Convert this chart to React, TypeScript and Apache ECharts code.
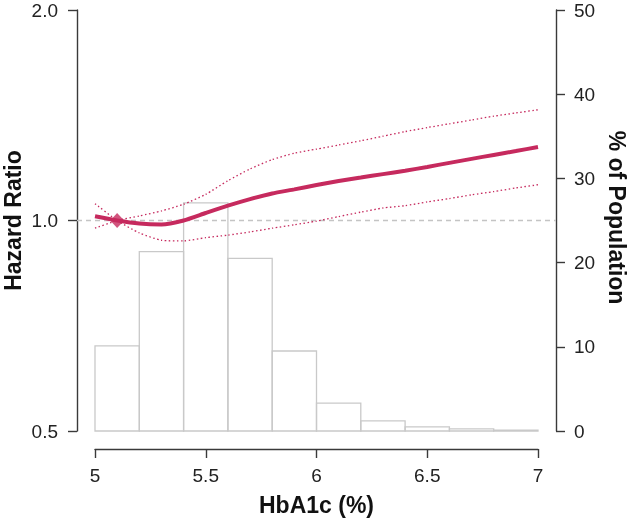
import React, { useEffect, useRef } from "react";
import * as echarts from "echarts";

const hba1c = [5.0, 5.1, 5.2, 5.3, 5.4, 5.5, 5.6, 5.7, 5.8, 5.9, 6.0, 6.1, 6.2, 6.3, 6.4, 6.5, 6.6, 6.7, 6.8, 6.9, 7.0];
const hazard = [1.014, 1.0, 0.99, 0.987, 1.0, 1.025, 1.05, 1.073, 1.093, 1.108, 1.124, 1.139, 1.152, 1.165, 1.178, 1.193, 1.209, 1.225, 1.241, 1.257, 1.274];
const ciA = [0.975, 1.0, 1.015, 1.032, 1.055, 1.09, 1.14, 1.185, 1.222, 1.248, 1.265, 1.282, 1.3, 1.32, 1.34, 1.358, 1.375, 1.392, 1.41, 1.425, 1.44];
const ciB = [1.057, 1.0, 0.96, 0.937, 0.935, 0.945, 0.953, 0.963, 0.975, 0.986, 0.998, 1.013, 1.028, 1.042, 1.05, 1.063, 1.075, 1.088, 1.1, 1.113, 1.125];
const binStarts = [5.0, 5.2, 5.4, 5.6, 5.8, 6.0, 6.2, 6.4, 6.6, 6.8];
const binEnds = [5.2, 5.4, 5.6, 5.8, 6.0, 6.2, 6.4, 6.6, 6.8, 7.0];
const popPct = [10.1, 21.3, 27.1, 20.5, 9.5, 3.3, 1.2, 0.5, 0.25, 0.1];
const refPoint = [5.1, 1.0];
const xTitle = "HbA1c (%)";
const yLeftTitle = "Hazard Ratio";
const yRightTitle = "% of Population";

const MAIN = "#c62a5e";
const AXIS = "#3a3a3a";
const FONT = "Liberation Sans, Arial, sans-serif";

export default function App() {
  const ref = useRef<HTMLDivElement>(null);
  useEffect(() => {
    if (!ref.current) return;
    const chart = echarts.init(ref.current, undefined, { renderer: "svg" });
    const offset = 18;
    const axisLine = { show: true, onZero: false, lineStyle: { color: AXIS, width: 1.4 } };
    const axisTick = { show: true, length: 9, lineStyle: { color: AXIS, width: 1.4 } };
    const labelStyle = { color: "#222", fontSize: 19, fontFamily: FONT };
    const nameStyle = { color: "#111", fontSize: 23, fontWeight: "bold" as const, fontFamily: FONT };
    const option: any = {
      animation: false,
      grid: { left: 95, right: 95, top: 10, bottom: 100, containLabel: false, outerBoundsMode: "none" },
      xAxis: [
        {
          type: "value",
          position: "bottom",
          min: 5,
          max: 7,
          interval: 0.5,
          offset,
          axisLine,
          axisTick,
          splitLine: { show: false },
          axisLabel: { ...labelStyle, margin: 17, formatter: (v: number) => String(v) },
          name: xTitle,
          nameLocation: "middle",
          nameGap: 44,
          nameTextStyle: nameStyle,
        },
      ],
      yAxis: [
        {
          type: "log",
          logBase: 2,
          min: 0.5,
          max: 2,
          position: "left",
          offset,
          axisLine,
          axisTick,
          splitLine: { show: false },
          minorTick: { show: false },
          axisLabel: { ...labelStyle, margin: 19, formatter: (v: number) => v.toFixed(1) },
        },
        {
          type: "value",
          min: 0,
          max: 50,
          interval: 10,
          position: "right",
          offset,
          axisLine,
          axisTick,
          splitLine: { show: false },
          axisLabel: { ...labelStyle, margin: 18 },
        },
      ],
      series: [
        {
          type: "custom",
          yAxisIndex: 1,
          z: 1,
          data: binStarts.map((s, i) => [s, binEnds[i], popPct[i]]),
          renderItem: (params: any, api: any) => {
            const p0 = api.coord([api.value(0), 0]);
            const p1 = api.coord([api.value(1), api.value(2)]);
            return {
              type: "rect",
              shape: { x: p0[0], y: p1[1], width: p1[0] - p0[0], height: p0[1] - p1[1] },
              style: { fill: "none", stroke: "#c9c9c9", lineWidth: 1.3 },
            };
          },
        },
        {
          type: "line",
          yAxisIndex: 0,
          z: 3,
          data: hba1c.map((x, i) => [x, ciA[i]]),
          smooth: 0.2,
          showSymbol: false,
          lineStyle: { color: MAIN, width: 1.3, type: [1.5, 2.5] },
        },
        {
          type: "line",
          yAxisIndex: 0,
          z: 3,
          data: hba1c.map((x, i) => [x, ciB[i]]),
          smooth: 0.2,
          showSymbol: false,
          lineStyle: { color: MAIN, width: 1.3, type: [1.5, 2.5] },
        },
        {
          type: "line",
          yAxisIndex: 0,
          z: 4,
          data: hba1c.map((x, i) => [x, hazard[i]]),
          smooth: 0.2,
          showSymbol: false,
          lineStyle: { color: MAIN, width: 4 },
        },
        {
          type: "scatter",
          yAxisIndex: 0,
          z: 5,
          data: [refPoint],
          symbol: "diamond",
          symbolSize: [14, 15],
          itemStyle: { color: MAIN },
        },
      ],
    };
    chart.setOption(option);
    const yRef = chart.convertToPixel({ yAxisIndex: 0 }, 1.0) as number;
    const xL = (chart.convertToPixel({ xAxisIndex: 0 }, 5) as number) - offset;
    const xR = (chart.convertToPixel({ xAxisIndex: 0 }, 7) as number) + offset;
    const yMid = ((chart.convertToPixel({ yAxisIndex: 0 }, 0.5) as number) + (chart.convertToPixel({ yAxisIndex: 0 }, 2) as number)) / 2;
    chart.setOption({
      graphic: [
        {
          id: "refline",
          type: "line",
          z: 2,
          shape: { x1: xL, y1: yRef, x2: xR, y2: yRef },
          style: { stroke: "#c4c4c4", lineWidth: 1.3, lineDash: [5, 4] },
        },
        {
          id: "ltitle",
          type: "text",
          x: 13,
          y: yMid,
          rotation: Math.PI / 2,
          style: { text: yLeftTitle, align: "center", verticalAlign: "middle", fill: "#111", font: `bold 23px ${FONT}` },
        },
        {
          id: "rtitle",
          type: "text",
          x: 617,
          y: yMid - 3,
          rotation: -Math.PI / 2,
          style: { text: yRightTitle, align: "center", verticalAlign: "middle", fill: "#111", font: `bold 23px ${FONT}` },
        },
      ],
    });
    return () => chart.dispose();
  }, []);
  return <div ref={ref} style={{ position: "fixed", left: 0, top: 0, width: 633, height: 531 }} />;
}
